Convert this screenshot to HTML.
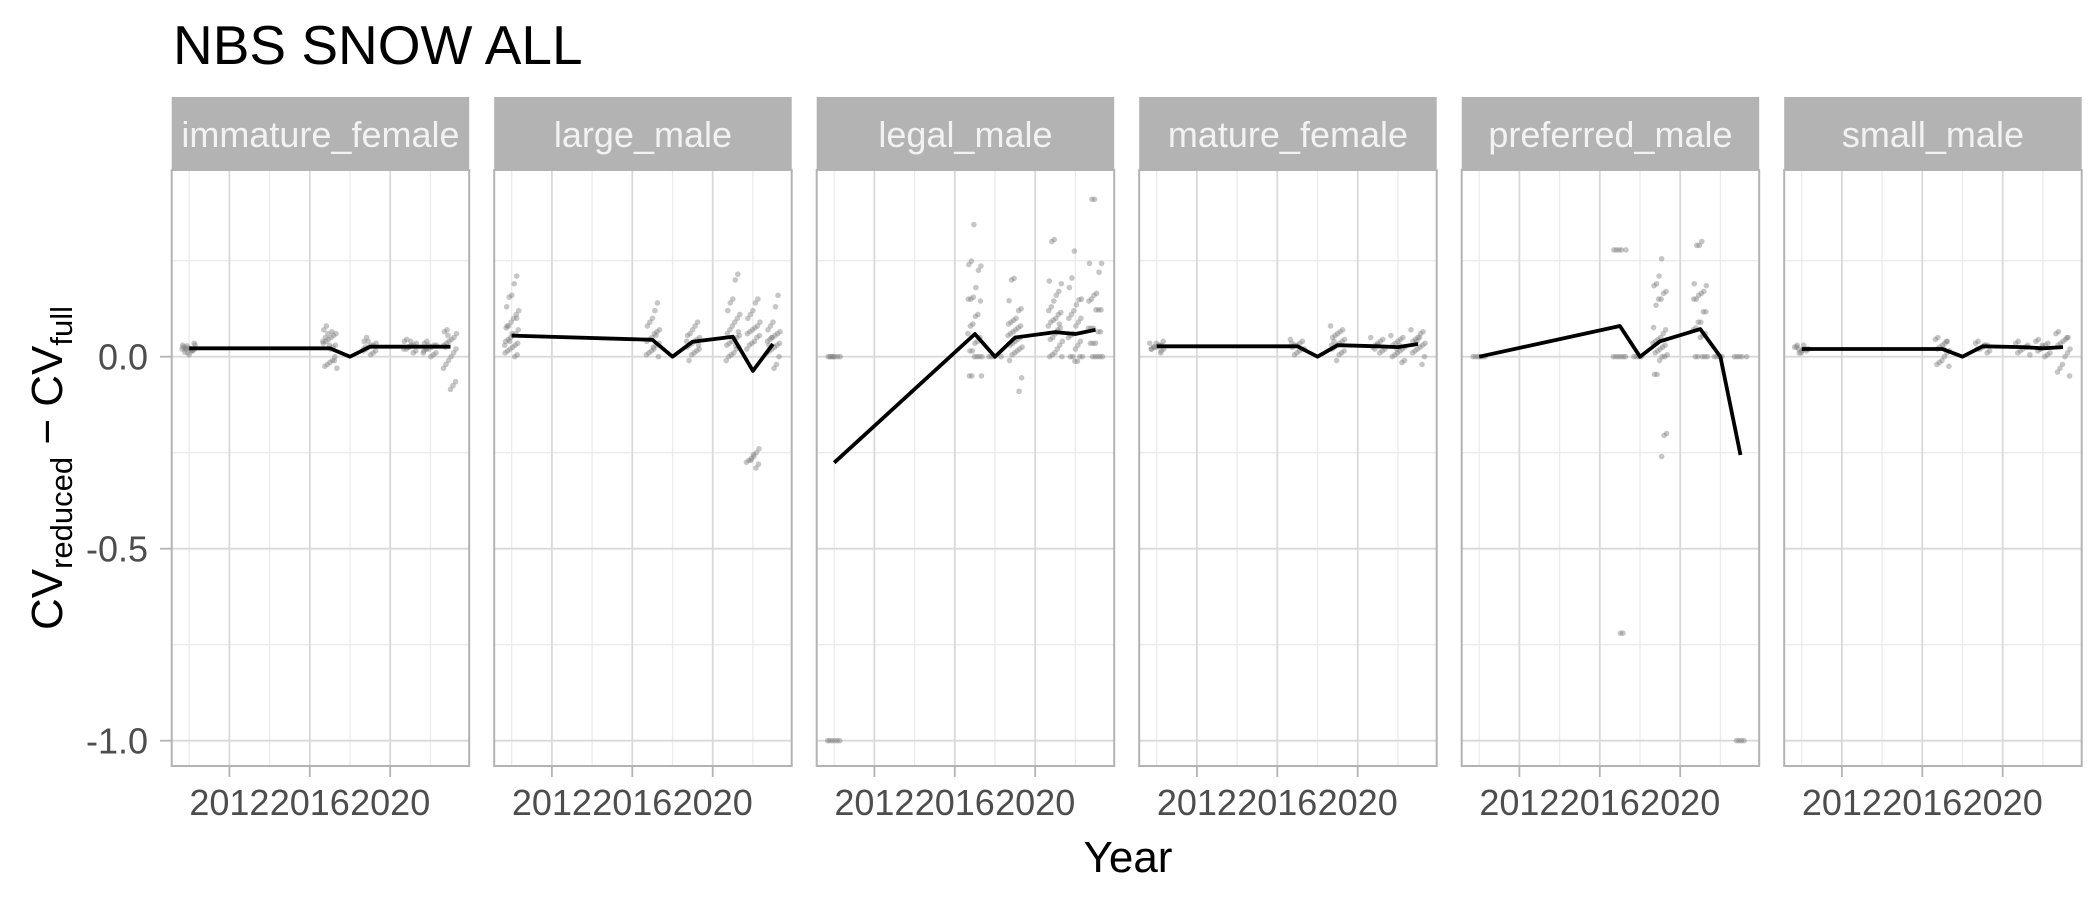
<!DOCTYPE html>
<html><head><meta charset="utf-8"><style>
html,body{margin:0;padding:0;background:#fff;}
svg{display:block;font-family:"Liberation Sans",Arial,sans-serif;}
</style></head><body>
<svg id="chart" width="2100" height="900" viewBox="0 0 2100 900" xmlns="http://www.w3.org/2000/svg">
<text x="173" y="64" font-size="55" fill="#000">NBS SNOW ALL</text>
<text x="1128" y="872" font-size="44" text-anchor="middle" fill="#000">Year</text>
<text transform="translate(62,468) rotate(-90)" text-anchor="middle" font-size="44" fill="#000">CV<tspan font-size="31" dy="10">reduced</tspan><tspan dy="-10"> − CV</tspan><tspan font-size="31" dy="10">full</tspan></text>
<g id="panels"></g>
</svg>
<script>
const panelNames = ["immature_female","large_male","legal_male","mature_female","preferred_male","small_male"];
const lineYears = [2010,2017,2018,2019,2021,2022,2023];
const lineImmature = [0.022,0.022,0,0.026,0.026,0.026,0.026];
const lineLarge = [0.055,0.044,0,0.039,0.052,-0.037,0.033];
const lineLegal = [-0.276,0.059,0,0.05,0.064,0.059,0.07];
const lineMature = [0.027,0.027,0,0.03,0.027,0.025,0.033];
const linePreferred = [0,0.08,0,0.04,0.072,0,-0.256];
const lineSmall = [0.02,0.02,0,0.027,0.025,0.022,0.025];
const yTicks = [0,-0.5,-1];
const yTickLabels = ["0.0","-0.5","-1.0"];
const yMinor = [0.25,-0.25,-0.75];
const xTicks = [2012,2016,2020];
const xTickLabels = ["2012","2016","2020"];
const xMinor = [2010,2014,2018,2022];

const ptsImmature = {
2010:[0.02,0.025,0.03,0.015,0.02,0.01,0.025,0.03,0.02,0.018,0.022,0.028,0.012,0.02,0.035,0.015,0.005,0.02],
2017:[0.08,0.07,0.06,0.055,0.05,0.045,0.04,0.035,0.03,0.025,0.02,0.06,0.05,0.04,0.0,-0.01,-0.015,-0.02,-0.025,-0.03,-0.01,0.065,0.03],
2019:[0.05,0.04,0.035,0.03,0.03,0.025,0.02,0.02,0.015,0.01,0.005,0.04,0.025,0.015],
2021:[0.045,0.04,0.035,0.03,0.03,0.025,0.02,0.02,0.015,0.01,0.04,0.025],
2022:[0.04,0.035,0.03,0.03,0.025,0.02,0.02,0.015,0.01,0.005,0.0,0.03,0.02,0.01],
2023:[0.07,0.065,0.06,0.05,0.045,0.04,0.035,0.03,0.02,0.01,0.0,-0.01,-0.02,-0.03,-0.065,-0.075,-0.085,0.055,0.025]};
const ptsLarge = {
2010:[0.21,0.19,0.16,0.155,0.13,0.12,0.11,0.1,0.09,0.08,0.075,0.07,0.06,0.055,0.05,0.045,0.04,0.035,0.03,0.025,0.02,0.015,0.01,0.005,0.0,0.06,0.04,0.08,0.03,0.1],
2017:[0.14,0.12,0.1,0.09,0.08,0.07,0.065,0.06,0.05,0.045,0.04,0.035,0.03,0.02,0.015,0.01,0.005,0.0,0.055,0.025],
2019:[0.09,0.08,0.07,0.06,0.055,0.05,0.045,0.04,0.035,0.03,0.025,0.02,0.015,0.01,0.005,-0.01,0.04,0.03],
2021:[0.215,0.2,0.15,0.14,0.12,0.11,0.1,0.09,0.08,0.07,0.06,0.055,0.05,0.045,0.04,0.035,0.03,0.025,0.02,0.01,0.005,0.0,-0.01,0.065,0.03],
2022:[0.15,0.14,0.12,0.11,0.1,0.09,0.08,0.075,0.07,0.065,0.06,0.055,0.05,0.04,0.035,0.03,0.02,-0.24,-0.25,-0.26,-0.265,-0.27,-0.275,-0.28,-0.29,-0.255,-0.27],
2023:[0.16,0.13,0.09,0.08,0.07,0.065,0.06,0.055,0.05,0.045,0.04,0.035,0.03,0.025,0.02,0.015,0.01,0.0,-0.02,-0.03,0.05,0.03]};
const ptsLegal = {
2010:[0,0,0,0,0,0,0,0,-1,-1,-1,-1,-1,-1],
2017:[0.344,0.249,0.24,0.236,0.225,0.18,0.155,0.15,0.15,0.145,0.11,0.105,0.085,0.08,0.06,0.05,0.04,0.035,0.015,0.015,0,0,0,0,-0.05,-0.05,-0.05],
2018:[0,0,0,0],
2019:[0.204,0.2,0.146,0.125,0.12,0.1,0.095,0.09,0.085,0.08,0.075,0.07,0.065,0.06,0.055,0.05,0.045,0.04,0.035,0.03,0.025,0.02,0.015,0.01,0.005,-0.01,-0.055,-0.09],
2021:[0.305,0.3,0.197,0.19,0.17,0.16,0.145,0.13,0.12,0.115,0.11,0.1,0.095,0.09,0.08,0.075,0.07,0.06,0.05,0.045,0.04,0.03,0.02,0.01,0.005,0.0,0.0,0.085,0.065],
2022:[0.275,0.205,0.18,0.15,0.148,0.135,0.12,0.11,0.1,0.1,0.09,0.08,0.06,0.055,0.05,0.04,0.03,0.02,0,0,0,0,-0.012,-0.012],
2023:[0.41,0.41,0.243,0.243,0.22,0.165,0.16,0.15,0.145,0.122,0.122,0.122,0.074,0.074,0.074,0.065,0.065,0.035,0.035,0.035,0,0,0,0,0]};
const ptsMature = {
2010:[0.035,0.03,0.03,0.025,0.025,0.02,0.02,0.015,0.03,0.035,0.025,0.02,0.04,0.01],
2017:[0.045,0.04,0.035,0.03,0.03,0.025,0.02,0.02,0.015,0.01,0.005,0.035],
2019:[0.08,0.07,0.065,0.06,0.055,0.05,0.045,0.04,0.035,0.03,0.025,0.02,0.015,0.01,0.005,-0.01,0.04,0.03],
2021:[0.05,0.045,0.04,0.035,0.03,0.025,0.02,0.015,0.01,0.03,0.02],
2022:[0.055,0.05,0.045,0.04,0.035,0.03,0.025,0.02,0.015,0.01,0.005,0.0,-0.01,-0.015,0.03,0.02],
2023:[0.07,0.065,0.06,0.05,0.045,0.04,0.035,0.03,0.025,0.02,0.015,0.01,0.0,-0.02,0.05,0.04]};
const ptsPreferred = {
2010:[0,0,0,0,0,0],
2017:[0.278,0.278,0.278,0.278,0.278,0,0,0,0,0,0,-0.72,-0.72],
2018:[0,0,0,0],
2019:[0.255,0.21,0.19,0.185,0.17,0.165,0.15,0.15,0.134,0.076,0.07,0.06,0.05,0.045,0.04,0.035,0.03,0.025,0.02,0.015,0.01,0.005,0,0,-0.01,-0.046,-0.046,-0.2,-0.205,-0.26],
2021:[0.3,0.29,0.29,0.19,0.185,0.17,0.165,0.16,0.15,0.15,0.117,0.117,0.09,0.09,0.075,0.07,0.06,0.055,0.05,0,0,0,0,0],
2022:[0,0,0,0],
2023:[0,0,0,0,0,-1,-1,-1,-1]};
const ptsSmall = {
2010:[0.03,0.025,0.02,0.02,0.015,0.01,0.025,0.02,0.015,0.03,0.01,0.02],
2017:[0.05,0.045,0.04,0.035,0.03,0.025,0.02,0.015,0.01,0.0,-0.01,-0.015,-0.02,-0.025,0.04,0.02],
2019:[0.04,0.035,0.03,0.03,0.025,0.02,0.02,0.015,0.01,0.03],
2021:[0.04,0.035,0.03,0.025,0.02,0.015,0.01,0.005,0.025],
2022:[0.045,0.04,0.035,0.03,0.025,0.02,0.015,0.01,0.005,0.0,0.03,0.02],
2023:[0.065,0.06,0.05,0.045,0.04,0.035,0.03,0.02,0.01,0.0,-0.02,-0.03,-0.04,-0.05,0.05]};

const lines = [lineImmature,lineLarge,lineLegal,lineMature,linePreferred,lineSmall];
const pts = [ptsImmature,ptsLarge,ptsLegal,ptsMature,ptsPreferred,ptsSmall];

const NS = "http://www.w3.org/2000/svg";
const P0 = 171.7, PITCH = 322.5, PW = 297.5, TOP = 170, BOT = 766, STRIPTOP = 97;
const X0 = 2009.13, X1 = 2023.93, Y0PX = 356.7, YU = 384;
function sx(i, yr){ return P0 + i*PITCH + (yr - X0)/(X1 - X0)*PW; }
function sy(v){ return Y0PX - v*YU; }
function mk(tag, attrs, parent){ const e = document.createElementNS(NS, tag); for (const k in attrs) e.setAttribute(k, attrs[k]); parent.appendChild(e); return e; }

const root = document.getElementById("panels");
panelNames.forEach((name, i) => {
  const L = P0 + i*PITCH;
  const g = mk("g", {}, root);
  
  
  const strip = mk("rect", {x:L, y:STRIPTOP, width:PW, height:TOP-STRIPTOP, fill:"#b3b3b3"}, g);
  
  
  const st = mk("text", {x:L+PW/2, y:147, "font-size":36, fill:"#f2f2f2", "text-anchor":"middle"}, g);
  st.textContent = name;
  
  
  yMinor.forEach(v => { const l = mk("line", {x1:L, x2:L+PW, y1:sy(v), y2:sy(v), stroke:"#ebebeb", "stroke-width":1.3}, g);
      });
  xMinor.forEach(v => { const l = mk("line", {x1:sx(i,v), x2:sx(i,v), y1:TOP, y2:BOT, stroke:"#ebebeb", "stroke-width":1.3}, g);
      });
  yTicks.forEach(v => { const l = mk("line", {x1:L, x2:L+PW, y1:sy(v), y2:sy(v), stroke:"#d9d9d9", "stroke-width":1.8}, g);
      });
  xTicks.forEach((v, k) => {
    const l = mk("line", {x1:sx(i,v), x2:sx(i,v), y1:TOP, y2:BOT, stroke:"#d9d9d9", "stroke-width":1.8}, g);
     
    const t = mk("line", {x1:sx(i,v), x2:sx(i,v), y1:BOT, y2:BOT+11, stroke:"#b3b3b3", "stroke-width":1.8}, g);
     
    const tl = mk("text", {x:sx(i,v), y:815, "font-size":36, fill:"#4d4d4d", "text-anchor":"middle"}, g);
    tl.textContent = xTickLabels[k];
     
  });
  const p = pts[i];
  Object.keys(p).forEach(yr => {
    p[yr].forEach((v, j) => {
      const jit = ((((j*53 + i*17 + 7) % 29) / 28) - 0.5) * 0.7;
      const c = mk("circle", {cx:sx(i, +yr + jit), cy:sy(v), r:2.8, fill:"#808080", "fill-opacity":0.45}, g);
      
      
    });
  });
  const d = lineYears.map((yr, k) => (k ? "L" : "M") + sx(i, yr).toFixed(1) + "," + sy(lines[i][k]).toFixed(1)).join(" ");
  const path = mk("path", {d:d, fill:"none", stroke:"#000", "stroke-width":3.8, "stroke-linejoin":"round"}, g);
  
  
  const border = mk("rect", {x:L, y:TOP, width:PW, height:BOT-TOP, fill:"none", stroke:"#b3b3b3", "stroke-width":2}, g);
  
  
});
yTicks.forEach((v, k) => {
  const t = mk("line", {x1:160, x2:P0, y1:sy(v), y2:sy(v), stroke:"#b3b3b3", "stroke-width":1.8}, root);
   
  const tl = mk("text", {x:148, y:sy(v)+13, "font-size":36, fill:"#4d4d4d", "text-anchor":"end"}, root);
  tl.textContent = yTickLabels[k];
   
});
</script>
</body></html>
